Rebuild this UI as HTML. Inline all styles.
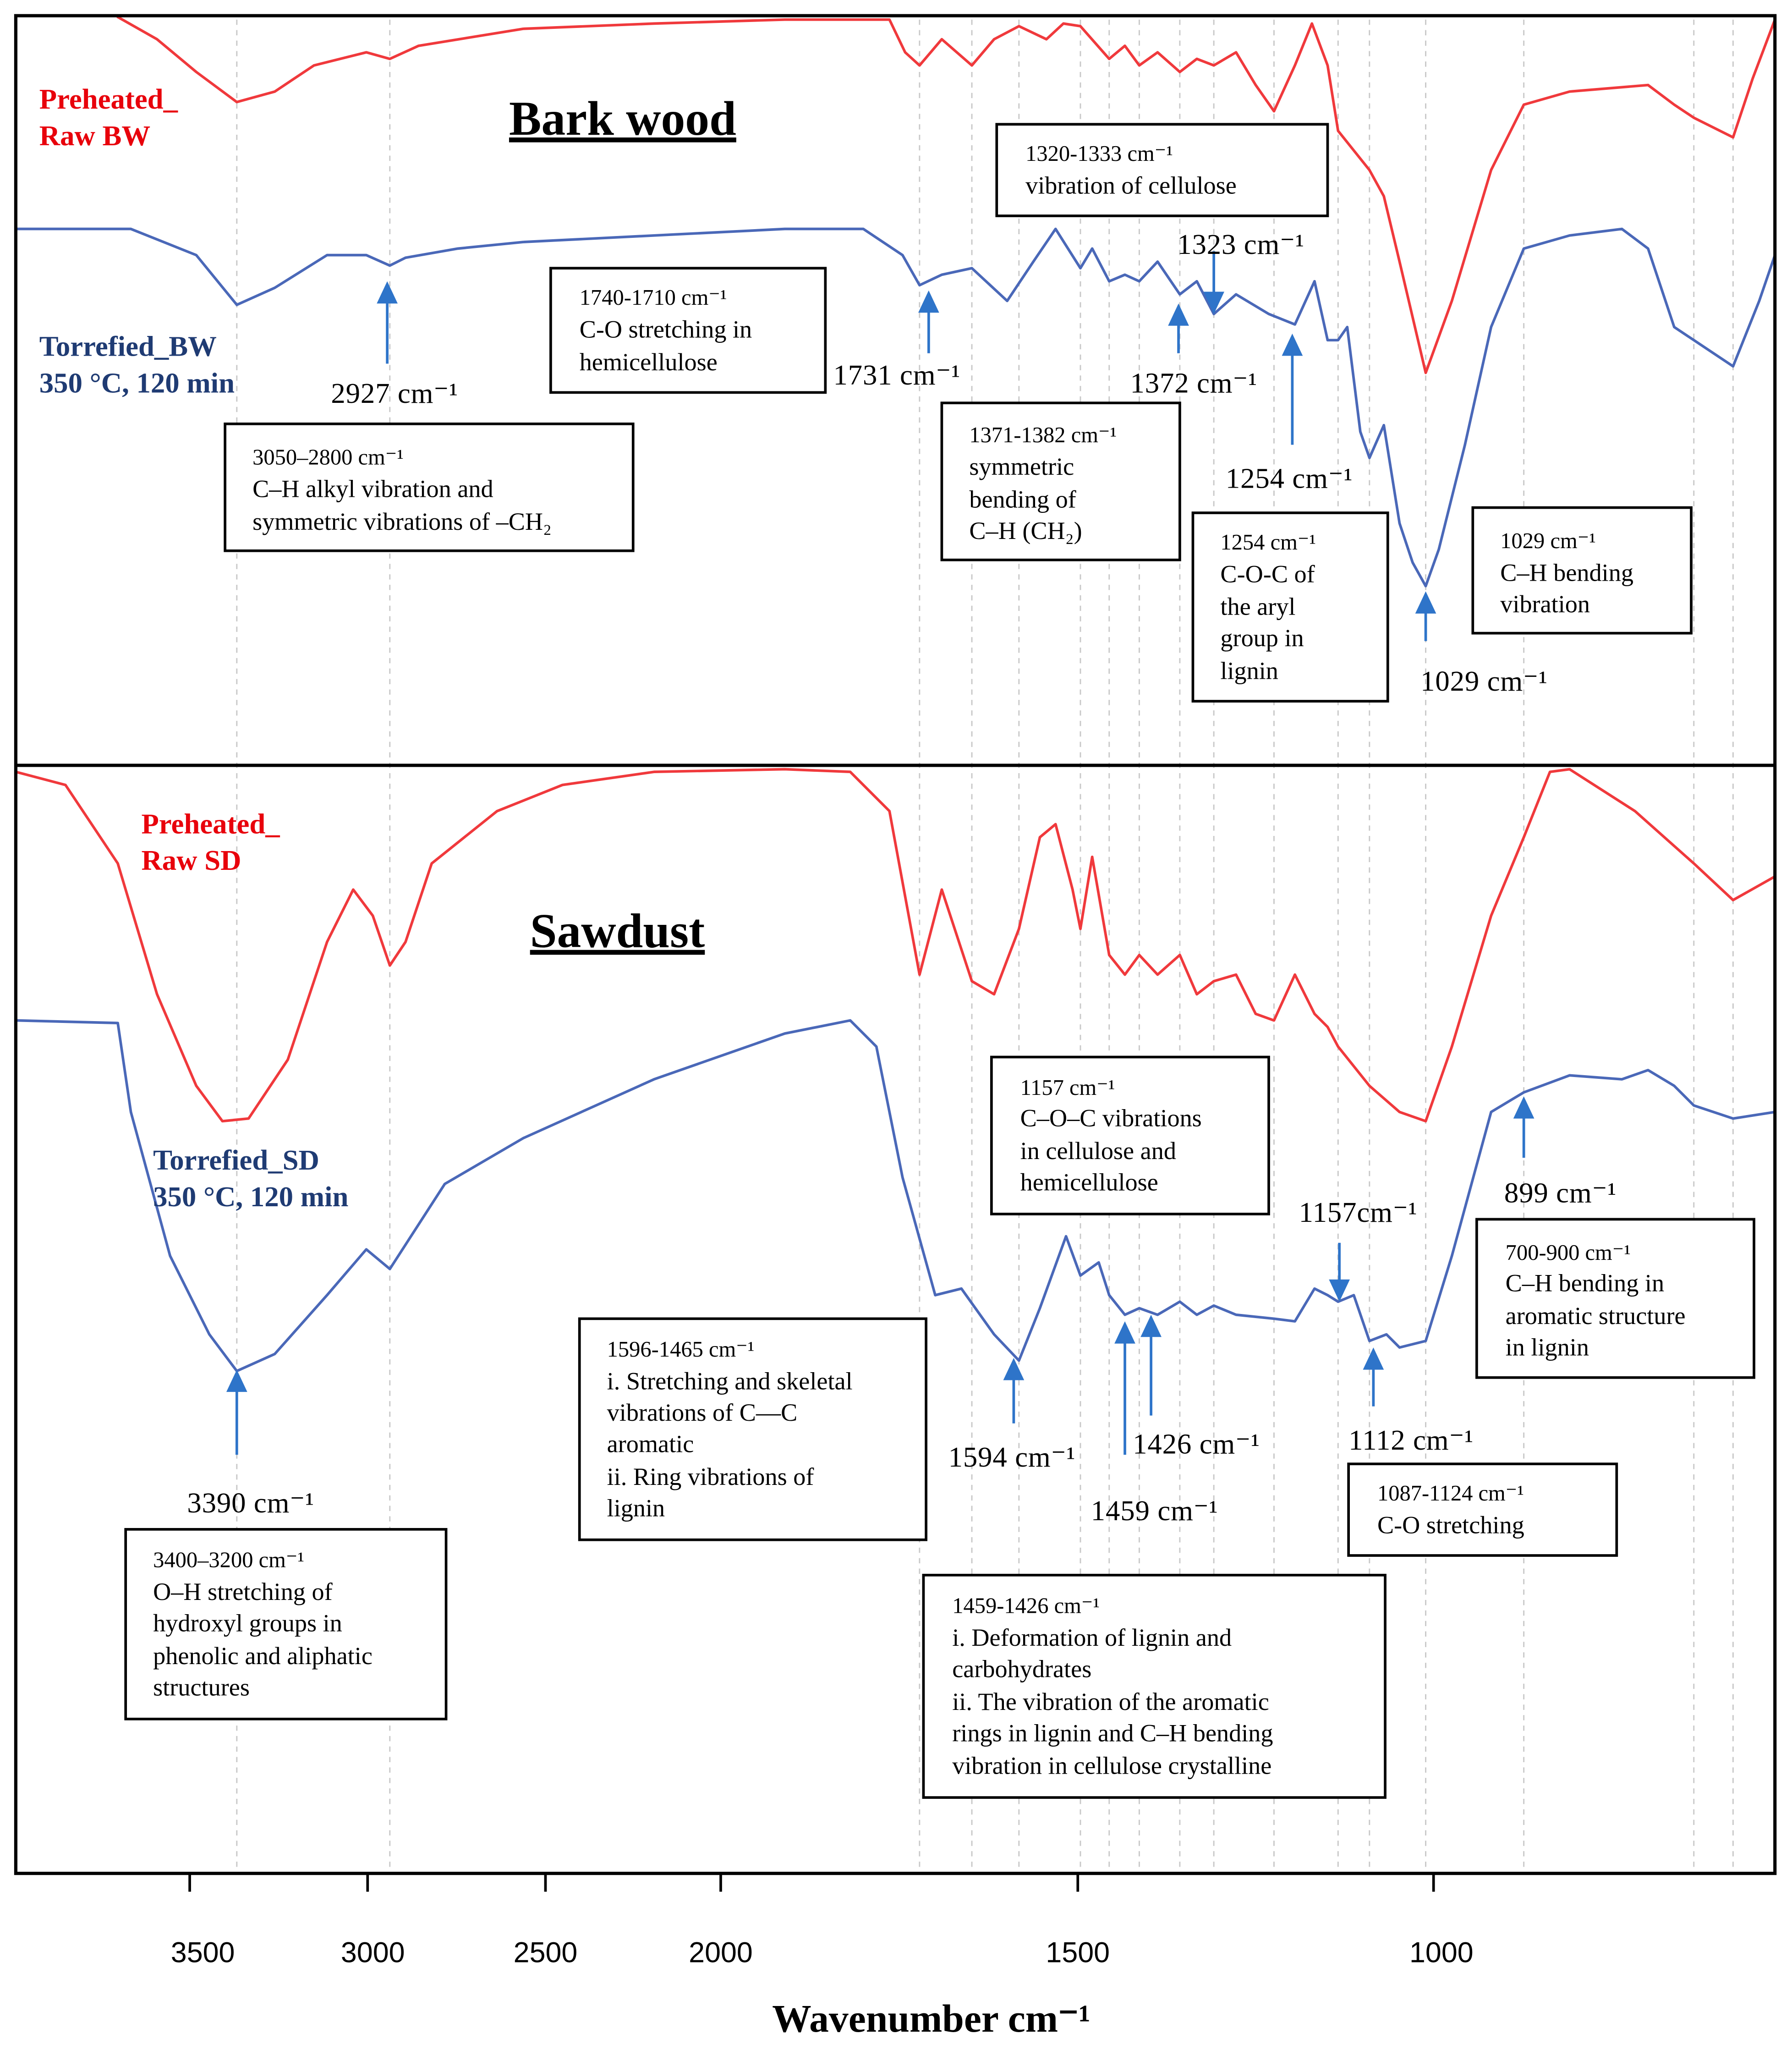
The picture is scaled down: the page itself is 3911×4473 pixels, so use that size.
<!DOCTYPE html>
<html><head><meta charset="utf-8"><style>
html,body{margin:0;padding:0;background:#fff}
svg{display:block}
text{font-family:"Liberation Serif",serif;fill:#000}
.bx{fill:#fff;stroke:#000;stroke-width:2}
.t1{font-size:17px}
.t2{font-size:19px}
.pk{font-size:22px;letter-spacing:0.3px}
.ax{font-size:22px;font-family:"Liberation Sans",sans-serif}
.red{fill:#e8000b;font-weight:bold;font-size:22px}
.blu{fill:#1f3b73;font-weight:bold;font-size:22px}
.dl{stroke:#c8c8c8;stroke-width:1;stroke-dasharray:4 4}
.ar{stroke:#2e74c9;stroke-width:2}
.ah{fill:#2e74c9}
</style></head><body>
<svg width="3911" height="4473" viewBox="0 0 1370 1567" xmlns="http://www.w3.org/2000/svg">
<rect width="1370" height="1567" fill="#fff"/>
<g>
<line class="dl" x1="181" y1="15" x2="181" y2="1430"/><line class="dl" x1="298" y1="15" x2="298" y2="1430"/>
<line class="dl" x1="703" y1="15" x2="703" y2="1430"/><line class="dl" x1="743" y1="15" x2="743" y2="1430"/>
<line class="dl" x1="779" y1="15" x2="779" y2="1430"/><line class="dl" x1="826" y1="15" x2="826" y2="1430"/>
<line class="dl" x1="848" y1="15" x2="848" y2="1430"/><line class="dl" x1="871" y1="15" x2="871" y2="1430"/>
<line class="dl" x1="902" y1="15" x2="902" y2="1430"/><line class="dl" x1="928" y1="15" x2="928" y2="1430"/>
<line class="dl" x1="974" y1="15" x2="974" y2="1430"/><line class="dl" x1="1023" y1="15" x2="1023" y2="1430"/>
<line class="dl" x1="1047" y1="15" x2="1047" y2="1430"/><line class="dl" x1="1090" y1="15" x2="1090" y2="1430"/>
<line class="dl" x1="1165" y1="15" x2="1165" y2="1430"/><line class="dl" x1="1295" y1="15" x2="1295" y2="1430"/>
<line class="dl" x1="1325" y1="15" x2="1325" y2="1430"/>
</g>
<g fill="none" stroke-width="2" stroke-linejoin="round" stroke-linecap="round">
<polyline stroke="#f0393c" points="90,13 120,30 150,55 181,78 210,70 240,50 280,40 298,45 320,35 400,22 500,18 600,15 680,15 692,40 703,50 720,30 743,50 760,30 779,20 800,30 813,18 826,20 848,45 860,35 871,50 885,40 902,55 915,45 928,50 945,40 960,65 974,85 990,50 1003,18 1015,50 1023,100 1035,115 1047,130 1058,150 1070,200 1090,285 1110,230 1140,130 1165,80 1200,70 1260,65 1280,80 1295,90 1325,105 1340,60 1357,15"/>
<polyline stroke="#4a68b8" points="12,175 100,175 150,195 181,233 210,220 250,195 280,195 298,203 310,197 350,190 400,185 500,180 600,175 660,175 690,195 703,218 720,210 743,205 770,230 790,200 807,175 826,205 835,190 848,215 860,210 871,215 885,200 902,225 915,215 928,240 945,225 970,240 990,248 1005,215 1015,260 1023,260 1030,250 1040,330 1047,350 1058,325 1070,400 1080,430 1090,448 1100,420 1120,340 1140,250 1165,190 1200,180 1240,175 1260,190 1280,250 1295,260 1325,280 1345,230 1357,195"/>
<polyline stroke="#f0393c" points="12,590 50,600 90,660 120,760 150,830 170,857 190,855 220,810 250,720 270,680 285,700 298,738 310,720 330,660 380,620 430,600 500,590 600,588 650,590 680,620 703,745 720,680 743,750 760,760 779,710 795,640 807,630 820,680 826,710 835,655 848,730 860,745 871,730 885,745 902,730 915,760 928,750 945,745 960,775 974,780 990,745 1005,775 1015,785 1023,800 1047,830 1070,850 1090,857 1110,800 1140,700 1165,640 1185,590 1200,588 1250,620 1295,660 1325,688 1357,670"/>
<polyline stroke="#4a68b8" points="12,780 90,782 100,850 130,960 160,1020 181,1048 210,1035 250,990 280,955 298,970 340,905 400,870 500,825 600,790 650,780 670,800 690,900 715,990 735,985 760,1020 779,1040 795,1000 815,945 826,975 840,965 848,990 860,1005 871,1000 885,1005 902,995 915,1005 928,998 945,1005 974,1008 990,1010 1005,985 1015,990 1023,995 1035,990 1047,1025 1060,1020 1070,1030 1090,1025 1110,960 1140,850 1165,835 1200,822 1240,825 1260,818 1280,830 1295,845 1325,855 1357,850"/>
</g>
<rect x="12" y="12" width="1345" height="1420" fill="none" stroke="#000" stroke-width="2.5"/>
<line x1="12" y1="585" x2="1357" y2="585" stroke="#000" stroke-width="2.5"/>
<g stroke="#000" stroke-width="2">
<line x1="145" y1="1432" x2="145" y2="1446"/><line x1="281" y1="1432" x2="281" y2="1446"/>
<line x1="417" y1="1432" x2="417" y2="1446"/><line x1="551" y1="1432" x2="551" y2="1446"/>
<line x1="824" y1="1432" x2="824" y2="1446"/><line x1="1096" y1="1432" x2="1096" y2="1446"/>
</g>
<g text-anchor="middle">
<text x="155" y="1500" class="ax">3500</text><text x="285" y="1500" class="ax">3000</text>
<text x="417" y="1500" class="ax">2500</text><text x="551" y="1500" class="ax">2000</text>
<text x="824" y="1500" class="ax">1500</text><text x="1102" y="1500" class="ax">1000</text>
</g>
<text x="712" y="1553" text-anchor="middle" style="font-size:30px;font-weight:bold">Wavenumber cm⁻¹</text>
<text x="476" y="103" text-anchor="middle" style="font-size:37px;font-weight:bold;text-decoration:underline">Bark wood</text>
<text x="472" y="724" text-anchor="middle" style="font-size:37px;font-weight:bold;text-decoration:underline">Sawdust</text>
<text x="30" y="83" class="red">Preheated_</text><text x="30" y="111" class="red">Raw BW</text>
<text x="30" y="272" class="blu">Torrefied_BW</text><text x="30" y="300" class="blu">350 °C, 120 min</text>
<text x="108" y="637" class="red">Preheated_</text><text x="108" y="665" class="red">Raw SD</text>
<text x="117" y="894" class="blu">Torrefied_SD</text><text x="117" y="922" class="blu">350 °C, 120 min</text>
<g>
<line class="ar" x1="296" y1="278" x2="296" y2="228"/><polygon class="ah" points="288,232 304,232 296,215"/>
<line class="ar" x1="710" y1="270" x2="710" y2="235"/><polygon class="ah" points="702,239 718,239 710,222"/>
<line class="ar" x1="901" y1="270" x2="901" y2="245"/><polygon class="ah" points="893,249 909,249 901,232"/>
<line class="ar" x1="928" y1="192" x2="928" y2="227"/><polygon class="ah" points="920,223 936,223 928,240"/>
<line class="ar" x1="988" y1="340" x2="988" y2="268"/><polygon class="ah" points="980,272 996,272 988,255"/>
<line class="ar" x1="1090" y1="490" x2="1090" y2="465"/><polygon class="ah" points="1082,469 1098,469 1090,452"/>
<line class="ar" x1="181" y1="1112" x2="181" y2="1060"/><polygon class="ah" points="173,1064 189,1064 181,1047"/>
<line class="ar" x1="775" y1="1088" x2="775" y2="1051"/><polygon class="ah" points="767,1055 783,1055 775,1038"/>
<line class="ar" x1="860" y1="1112" x2="860" y2="1023"/><polygon class="ah" points="852,1027 868,1027 860,1010"/>
<line class="ar" x1="880" y1="1082" x2="880" y2="1018"/><polygon class="ah" points="872,1022 888,1022 880,1005"/>
<line class="ar" x1="1024" y1="950" x2="1024" y2="982"/><polygon class="ah" points="1016,978 1032,978 1024,995"/>
<line class="ar" x1="1050" y1="1075" x2="1050" y2="1043"/><polygon class="ah" points="1042,1047 1058,1047 1050,1030"/>
<line class="ar" x1="1165" y1="885" x2="1165" y2="851"/><polygon class="ah" points="1157,855 1173,855 1165,838"/>
</g>
<g>
<text x="253" y="308" class="pk">2927 cm⁻¹</text><text x="637" y="294" class="pk">1731 cm⁻¹</text>
<text x="864" y="300" class="pk">1372 cm⁻¹</text><text x="900" y="194" class="pk">1323 cm⁻¹</text>
<text x="937" y="373" class="pk">1254 cm⁻¹</text><text x="1086" y="528" class="pk">1029 cm⁻¹</text>
<text x="993" y="934" class="pk">1157cm⁻¹</text><text x="1150" y="919" class="pk">899 cm⁻¹</text>
<text x="725" y="1121" class="pk">1594 cm⁻¹</text><text x="866" y="1111" class="pk">1426 cm⁻¹</text>
<text x="834" y="1162" class="pk">1459 cm⁻¹</text><text x="1031" y="1108" class="pk">1112 cm⁻¹</text>
<text x="143" y="1156" class="pk">3390 cm⁻¹</text>
</g>
<rect class="bx" x="762" y="95" width="253" height="70"/>
<text x="784" y="123" class="t1">1320-1333 cm⁻¹</text><text x="784" y="148" class="t2">vibration of cellulose</text>
<rect class="bx" x="421" y="205" width="210" height="95"/>
<text x="443" y="233" class="t1">1740-1710 cm⁻¹</text><text x="443" y="258" class="t2">C-O  stretching  in</text><text x="443" y="283" class="t2">hemicellulose</text>
<rect class="bx" x="172" y="324" width="312" height="97"/>
<text x="193" y="355" class="t1">3050–2800 cm⁻¹</text><text x="193" y="380" class="t2">C–H alkyl vibration and</text><text x="193" y="405" class="t2">symmetric vibrations of –CH₂</text>
<rect class="bx" x="720" y="308" width="182" height="120"/>
<text x="741" y="338" class="t1">1371-1382 cm⁻¹</text><text x="741" y="363" class="t2">symmetric</text><text x="741" y="388" class="t2">bending of</text><text x="741" y="412" class="t2">C–H (CH₂)</text>
<rect class="bx" x="912" y="392" width="149" height="144"/>
<text x="933" y="420" class="t1">1254 cm⁻¹</text><text x="933" y="445" class="t2">C-O-C of</text><text x="933" y="470" class="t2">the aryl</text><text x="933" y="494" class="t2">group in</text><text x="933" y="519" class="t2">lignin</text>
<rect class="bx" x="1126" y="388" width="167" height="96"/>
<text x="1147" y="419" class="t1">1029 cm⁻¹</text><text x="1147" y="444" class="t2">C–H bending</text><text x="1147" y="468" class="t2">vibration</text>
<rect class="bx" x="758" y="808" width="212" height="120"/>
<text x="780" y="837" class="t1">1157 cm⁻¹</text><text x="780" y="861" class="t2">C–O–C vibrations</text><text x="780" y="886" class="t2">in cellulose and</text><text x="780" y="910" class="t2">hemicellulose</text>
<rect class="bx" x="1129" y="932" width="212" height="121"/>
<text x="1151" y="963" class="t1">700-900 cm⁻¹</text><text x="1151" y="987" class="t2">C–H bending in</text><text x="1151" y="1012" class="t2">aromatic structure</text><text x="1151" y="1036" class="t2">in lignin</text>
<rect class="bx" x="443" y="1008" width="265" height="169"/>
<text x="464" y="1037" class="t1">1596-1465 cm⁻¹</text><text x="464" y="1062" class="t2">i. Stretching and skeletal</text><text x="464" y="1086" class="t2">vibrations of C—C</text><text x="464" y="1110" class="t2">aromatic</text><text x="464" y="1135" class="t2">ii. Ring vibrations of</text><text x="464" y="1159" class="t2">lignin</text>
<rect class="bx" x="1031" y="1119" width="205" height="70"/>
<text x="1053" y="1147" class="t1">1087-1124   cm⁻¹</text><text x="1053" y="1172" class="t2">C-O stretching</text>
<rect class="bx" x="96" y="1169" width="245" height="145"/>
<text x="117" y="1198" class="t1">3400–3200 cm⁻¹</text><text x="117" y="1223" class="t2">O–H stretching of</text><text x="117" y="1247" class="t2">hydroxyl groups  in</text><text x="117" y="1272" class="t2">phenolic and aliphatic</text><text x="117" y="1296" class="t2">structures</text>
<rect class="bx" x="706" y="1204" width="353" height="170"/>
<text x="728" y="1233" class="t1">1459-1426 cm⁻¹</text><text x="728" y="1258" class="t2">i. Deformation of lignin and</text><text x="728" y="1282" class="t2">carbohydrates</text><text x="728" y="1307" class="t2">ii. The vibration of the aromatic</text><text x="728" y="1331" class="t2">rings in lignin and C–H bending</text><text x="728" y="1356" class="t2">vibration in cellulose crystalline</text>
</svg>
</body></html>
